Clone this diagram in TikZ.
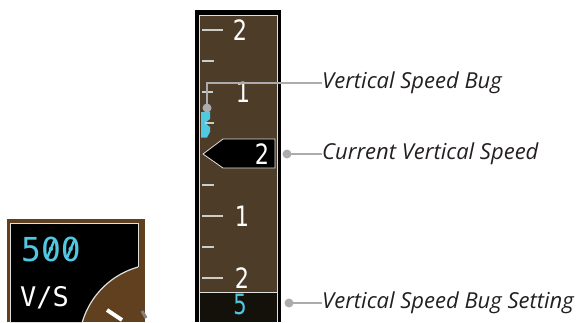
\documentclass[tikz,border=0pt]{standalone}
\usepackage{fontspec}
\setmainfont{Open Sans}
\newfontfamily\gfont{DejaVu Sans}
\newfontfamily\monofont{DejaVu Sans Mono}
\newfontfamily\lblfont{Open Sans}
\definecolor{tapebrown}{RGB}{76,60,40}
\definecolor{insetbrown}{RGB}{96,64,30}
\definecolor{vscyan}{RGB}{80,200,225}
\definecolor{callgray}{RGB}{172,172,174}
\definecolor{tickgray}{RGB}{205,205,200}
\definecolor{edgegray}{RGB}{225,225,220}
\definecolor{txtdark}{RGB}{35,31,32}
\definecolor{boxblack}{RGB}{20,16,10}
\tikzset{
  tick/.style={draw=tickgray, line width=2.4pt},
  scalenum/.style={text=white, font=\gfont\fontsize{28}{28}\selectfont, inner sep=0pt},
  callout/.style={draw=callgray, line width=1.8pt},
  calldot/.style={fill=callgray},
  zslash/.style={draw=vscyan, line width=2.4pt},
  lbl/.style={anchor=west, inner sep=0pt, text=txtdark, font=\lblfont\itshape\fontsize{22}{22}\selectfont},
}
\begin{document}
\begin{tikzpicture}[x=1pt,y=-1pt]
\useasboundingbox (0,0) rectangle (577,322);
% ---------- inset ----------
\fill[insetbrown] (7,219) rectangle (145,322);
\fill[black] (10,322) -- (82,322) -- plot[domain=-163.6:-105.8, samples=40] ({160+81*cos(\x)},{345+81*sin(\x)}) -- (138,223) -- (10,223) -- cycle;
\draw[edgegray, line width=1pt] (10,322) -- (10,223) -- (138,223) -- (138,267);
\draw[edgegray, line width=1.2pt] plot[domain=-163.6:-105.8, samples=40] ({160+81*cos(\x)},{345+81*sin(\x)});
\draw[white, line width=4pt] (107,310) -- (122,320);
\draw[gray, line width=3pt] (142,311) -- (146,318);
\node[anchor=west, inner sep=0pt, text=vscyan, font=\monofont\fontsize{33}{33}\selectfont] (sel) at (21,249) {500};
\draw[zslash] ([xshift=26.3pt,yshift=-8.5pt]sel.west) -- ([xshift=33.3pt,yshift=8.5pt]sel.west);
\draw[zslash] ([xshift=46.2pt,yshift=-8.5pt]sel.west) -- ([xshift=53.2pt,yshift=8.5pt]sel.west);
\node[anchor=west, inner sep=0pt, text=white, font=\monofont\fontsize{27}{27}\selectfont] (vs) at (20,298) {V/S};
% ---------- tape ----------
\fill[black] (195,10) rectangle (281,322);
\fill[tapebrown] (199,15) rectangle (277,292);
\fill[boxblack] (199,293) rectangle (277,322);
\draw[edgegray, line width=0.8pt] (199,322) -- (199,15) -- (277,15) -- (277,322);
\draw[edgegray, line width=0.8pt] (199,292.5) -- (277,292.5);
% ticks
\foreach \yy in {30,216,278} \draw[tick] (202,\yy) -- (223,\yy);
\draw[tick] (202,92) -- (213,92);
\foreach \yy in {61,185,247} \draw[tick] (202,\yy) -- (214,\yy);
\node[scalenum] (n2a) at (240,30) {\scalebox{0.8}[1]{2}};
\node[scalenum] (n1a) at (243,92) {\scalebox{0.8}[1]{1}};
\node[scalenum] (n1b) at (242,216) {\scalebox{0.8}[1]{1}};
\node[scalenum] (n2b) at (242,278) {\scalebox{0.8}[1]{2}};
% bug
\fill[vscyan] (201,112) -- (210,112) -- (210,119) -- (205,123) -- (210,127) -- (210,132) -- (207,137.5) -- (201,137.5) -- cycle;
\draw[tick] (205,123) -- (214,123);
% pointer
\fill[black, draw=edgegray, line width=0.8pt] (203,154) -- (223,139) -- (275,139) -- (275,168) -- (223,168) -- cycle;
\node[scalenum] (cur) at (262,154) {\scalebox{0.8}[1]{2}};
\node[inner sep=0pt, text=vscyan, font=\gfont\fontsize{28}{28}\selectfont] (bugset) at (240,304) {\scalebox{0.75}[1]{5}};
% ---------- callouts ----------
\coordinate (d1) at (207,108);
\coordinate (k1) at (207,83);
\coordinate (d2) at (287,154);
\coordinate (d3) at (289,303);
\node[lbl] (l1) at (322,83) {Vertical Speed Bug};
\node[lbl] (l2) at (322,154) {Current Vertical Speed};
\node[lbl] (l3) at (322,303) {Vertical Speed Bug Setting};
\draw[callout] (d1) -- (k1) -- (l1.west);
\draw[callout] (d2) -- (l2.west);
\draw[callout] (d3) -- (l3.west);
\fill[calldot] (d1) circle (4.5);
\fill[calldot] (d2) circle (4.5);
\fill[calldot] (d3) circle (4.5);
\end{tikzpicture}
\end{document}
